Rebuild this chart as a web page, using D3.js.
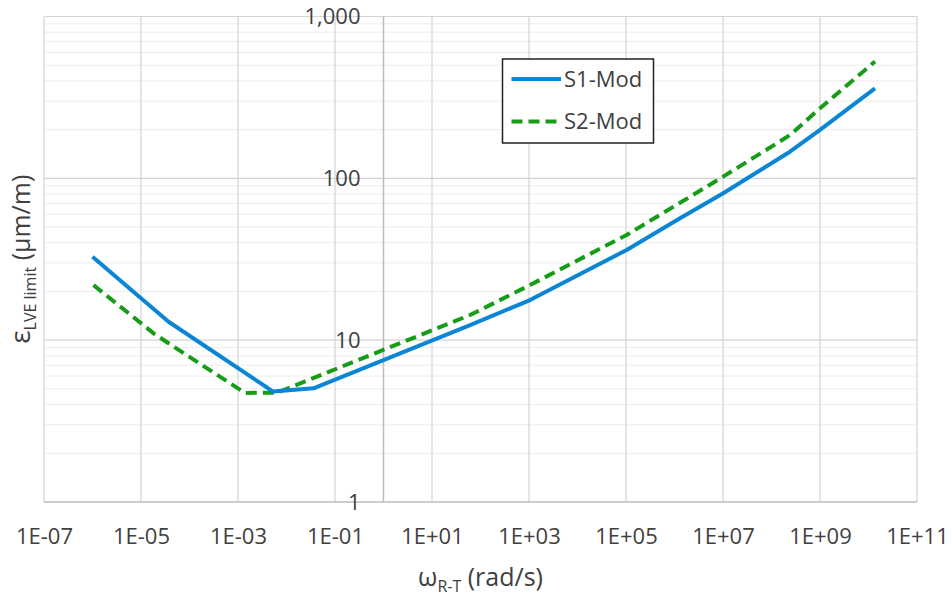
<!DOCTYPE html>
<html>
<head>
<meta charset="utf-8">
<script src="https://cdn.jsdelivr.net/npm/d3@7"></script>
<style>
  body { margin: 0; background: #fff; }
  text { font-family: "Open Sans", sans-serif; fill: #404040; }
</style>
</head>
<body>
<div id="container"></div>
<script>
var WIDTH = 952,
    HEIGHT = 596;

// omega (rad/s) and epsilon limit (um/m)
var s1Omega = [1.0e-6, 3.7e-5, 5.3e-3, 3.6e-2, 61, 1.05e3, 1.03e5, 1.3e6, 1.01e7, 2.4e8, 1.0e9, 1.36e10],
    s1Eps   = [32.8, 13.0, 4.81, 5.04, 12.4, 17.7, 36.1, 56.7, 80.9, 146, 199, 360];
var s2Omega = [1.05e-6, 1.9e-5, 1.39e-3, 6.4e-3, 61, 1.05e3, 1.03e5, 1.1e6, 1.01e7, 2.4e8, 1.0e9, 1.36e10],
    s2Eps   = [21.9, 10.9, 4.72, 4.74, 14.3, 21.9, 44.7, 68.5, 102.5, 185, 271, 527];

var seriesNames = ['S1-Mod', 'S2-Mod'];
var xTickExps = [-7, -5, -3, -1, 1, 3, 5, 7, 9, 11];
var yTicks = [1, 10, 100, 1000];

var margin = {left: 44, right: 35, top: 16.5, bottom: 94};

var x = d3.scaleLog()
    .domain([1e-7, 1e11])
    .range([margin.left, WIDTH - margin.right]);
var y = d3.scaleLog()
    .domain([1, 1000])
    .range([HEIGHT - margin.bottom, margin.top]);

var svg = d3.select('#container').append('svg')
    .attr('width', WIDTH)
    .attr('height', HEIGHT);

// minor horizontal grid (2..9 in each decade)
var yMinor = [];
yTicks.slice(0, -1).forEach(function(d) {
  for (var k = 2; k <= 9; k++) yMinor.push(d * k);
});
svg.append('g').selectAll('line')
    .data(yMinor)
    .enter().append('line')
      .attr('x1', x.range()[0])
      .attr('x2', x.range()[1])
      .attr('y1', function(d) { return y(d); })
      .attr('y2', function(d) { return y(d); })
      .attr('stroke', '#ececec')
      .attr('stroke-width', 1);

// major grid
var xTickVals = xTickExps.map(function(e) { return Math.pow(10, e); });
svg.append('g').selectAll('line')
    .data(yTicks.slice(1))
    .enter().append('line')
      .attr('x1', x.range()[0])
      .attr('x2', x.range()[1])
      .attr('y1', function(d) { return y(d); })
      .attr('y2', function(d) { return y(d); })
      .attr('stroke', '#d4d4d4')
      .attr('stroke-width', 1.2);
svg.append('g').selectAll('line')
    .data(xTickVals)
    .enter().append('line')
      .attr('x1', function(d) { return x(d); })
      .attr('x2', function(d) { return x(d); })
      .attr('y1', y.range()[0])
      .attr('y2', y.range()[1])
      .attr('stroke', '#d4d4d4')
      .attr('stroke-width', 1.2);

// axis lines: x axis at y=1, y axis at omega=1
svg.append('line')
    .attr('x1', x.range()[0]).attr('x2', x.range()[1])
    .attr('y1', y(1)).attr('y2', y(1))
    .attr('stroke', '#bcbcbc').attr('stroke-width', 1.5);
svg.append('line')
    .attr('x1', x(1)).attr('x2', x(1))
    .attr('y1', y.range()[0]).attr('y2', y.range()[1])
    .attr('stroke', '#bcbcbc').attr('stroke-width', 1.5);

// tick labels
var xAxis = d3.axisBottom(x)
    .tickValues(xTickVals)
    .tickSize(0)
    .tickPadding(26)
    .tickFormat(function(d) {
      var e = Math.round(Math.log10(d));
      return '1E' + (e < 0 ? '-' : '+') + (Math.abs(e) < 10 ? '0' : '') + Math.abs(e);
    });
var gx = svg.append('g')
    .attr('transform', 'translate(0,' + y(1) + ')')
    .call(xAxis);
gx.select('.domain').remove();
gx.selectAll('text').style('font-size', '22px').attr('fill', '#404040');

var yAxis = d3.axisLeft(y)
    .tickValues(yTicks)
    .tickSize(0)
    .tickPadding(23)
    .tickFormat(d3.format(','));
var gy = svg.append('g')
    .attr('transform', 'translate(' + x(1) + ',0)')
    .call(yAxis);
gy.select('.domain').remove();
gy.selectAll('text').style('font-size', '22px').attr('fill', '#404040');

// series
var line = d3.line()
    .x(function(d) { return x(d[0]); })
    .y(function(d) { return y(d[1]); });

var s1 = d3.zip(s1Omega, s1Eps),
    s2 = d3.zip(s2Omega, s2Eps);

svg.append('path')
    .datum(s2)
    .attr('d', line)
    .attr('fill', 'none')
    .attr('stroke', '#179c17')
    .attr('stroke-width', 4)
    .attr('stroke-dasharray', '11,6');
svg.append('path')
    .datum(s1)
    .attr('d', line)
    .attr('fill', 'none')
    .attr('stroke', '#0a86d4')
    .attr('stroke-width', 4)
    .attr('stroke-linejoin', 'round');

// legend
var legend = svg.append('g');
legend.append('rect')
    .attr('x', 502.5).attr('y', 59)
    .attr('width', 151).attr('height', 84)
    .attr('fill', '#fff')
    .attr('stroke', '#222')
    .attr('stroke-width', 1.5);
var legendStyles = [
  {stroke: '#0a86d4', dash: null, cy: 79},
  {stroke: '#179c17', dash: '11,6', cy: 121.5}
];
seriesNames.forEach(function(name, i) {
  var st = legendStyles[i];
  legend.append('line')
      .attr('x1', 511.5).attr('x2', 561)
      .attr('y1', st.cy).attr('y2', st.cy)
      .attr('stroke', st.stroke)
      .attr('stroke-width', 4)
      .attr('stroke-dasharray', st.dash);
  legend.append('text')
      .attr('x', 564)
      .attr('y', st.cy)
      .attr('dy', '0.36em')
      .style('font-size', '22px')
      .text(name);
});

// axis titles
var xt = svg.append('text')
    .attr('x', (x.range()[0] + x.range()[1]) / 2)
    .attr('y', 586)
    .attr('text-anchor', 'middle')
    .style('font-size', '25px');
xt.append('tspan').text('\u03c9');
xt.append('tspan').attr('dy', 6).style('font-size', '16px').text('R-T');
xt.append('tspan').attr('dy', -6).text(' (rad/s)');

var yt = svg.append('text')
    .attr('transform', 'translate(30,' + ((y.range()[0] + y.range()[1]) / 2) + ') rotate(-90)')
    .attr('text-anchor', 'middle')
    .style('font-size', '25px');
yt.append('tspan').style('font-size', '28px').text('\u03b5');
yt.append('tspan').attr('dy', 6).style('font-size', '16px').text('LVE limit');
yt.append('tspan').attr('dy', -6).text(' (\u03bcm/m)');
</script>
</body>
</html>
